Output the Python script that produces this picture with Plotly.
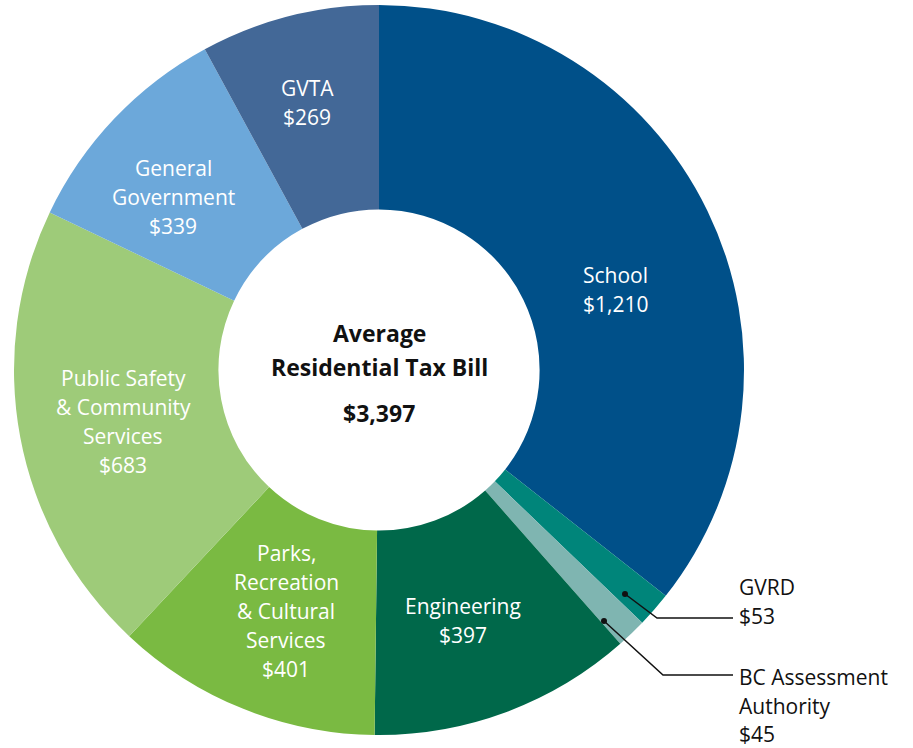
import plotly.graph_objects as go

categories = ["School", "GVRD", "BC Assessment Authority", "Engineering",
              "Parks, Recreation & Cultural Services", "Public Safety & Community Services",
              "General Government", "GVTA"]
values = [1210, 53, 45, 397, 401, 683, 339, 269]
colors = ["#005089", "#00857a", "#7fb5b1", "#00684a", "#7aba42", "#9ecb79", "#6ca8da", "#436897"]

# label lines displayed for each slice
label_lines = {
    "School": ["School"],
    "Engineering": ["Engineering"],
    "Parks, Recreation & Cultural Services": ["Parks,", "Recreation", "& Cultural", "Services"],
    "Public Safety & Community Services": ["Public Safety", "& Community", "Services"],
    "General Government": ["General", "Government"],
    "GVTA": ["GVTA"],
    "GVRD": ["GVRD"],
    "BC Assessment Authority": ["BC Assessment", "Authority"],
}
total = sum(values)

W, H = 913, 748
def px(x): return x / W
def py(y): return 1 - y / H

cx, cy, R = 379, 370, 365

fig = go.Figure(go.Pie(
    labels=categories, values=values, sort=False, direction="clockwise", rotation=0,
    hole=0.44, marker=dict(colors=colors, line=dict(width=0)),
    textinfo="none", hoverinfo="label+value", showlegend=False,
    domain=dict(x=[px(cx - R), px(cx + R)], y=[py(cy + R), py(cy - R)]),
))

FONT = "Open Sans"
ann = []
def add_block(lines, x, y0, step, color, size, anchor="center", bold=False):
    for i, t in enumerate(lines):
        txt = f"<b>{t}</b>" if bold else t
        ann.append(dict(x=px(x), y=py(y0 + i * step), xref="paper", yref="paper",
                        text=txt, showarrow=False, xanchor=anchor, yanchor="middle",
                        font=dict(family=FONT, size=size, color=color)))

inside_pos = {
    "School": (615, 275),
    "Engineering": (463, 606),
    "Parks, Recreation & Cultural Services": (286, 553),
    "Public Safety & Community Services": (123, 378),
    "General Government": (173, 168),
    "GVTA": (307, 88),
}
for cat, v in zip(categories, values):
    if cat in inside_pos:
        x, y = inside_pos[cat]
        add_block(label_lines[cat] + [f"${v:,}"], x, y, 29, "#ffffff", 21)

# callouts
callouts = {
    "GVRD": dict(dot=(625, 594), elbow=(657, 618), end=(733, 618), text_y=587),
    "BC Assessment Authority": dict(dot=(604, 621), elbow=(663, 675), end=(733, 675), text_y=677),
}
shapes = []
for cat, v in zip(categories, values):
    if cat in callouts:
        c = callouts[cat]
        (x0, y0), (x1, y1), (x2, y2) = c["dot"], c["elbow"], c["end"]
        shapes.append(dict(type="path", xref="paper", yref="paper",
                           path=f"M {px(x0)},{py(y0)} L {px(x1)},{py(y1)} L {px(x2)},{py(y2)}",
                           line=dict(color="#111111", width=1.5)))
        r = 3
        shapes.append(dict(type="circle", xref="paper", yref="paper",
                           x0=px(x0 - r), x1=px(x0 + r), y0=py(y0 + r), y1=py(y0 - r),
                           fillcolor="#111111", line=dict(width=0)))
        add_block(label_lines[cat] + [f"${v:,}"], 737, c["text_y"], 28.5, "#111111", 21, anchor="left")

# center
add_block(["Average", "Residential Tax Bill"], cx, 333, 34, "#111111", 23, bold=True)
add_block([f"${total:,}"], cx, 413, 0, "#111111", 23, bold=True)

fig.update_layout(width=W, height=H, margin=dict(l=0, r=0, t=0, b=0),
                  paper_bgcolor="white", plot_bgcolor="white",
                  annotations=ann, shapes=shapes)
fig.write_html("out.html")
